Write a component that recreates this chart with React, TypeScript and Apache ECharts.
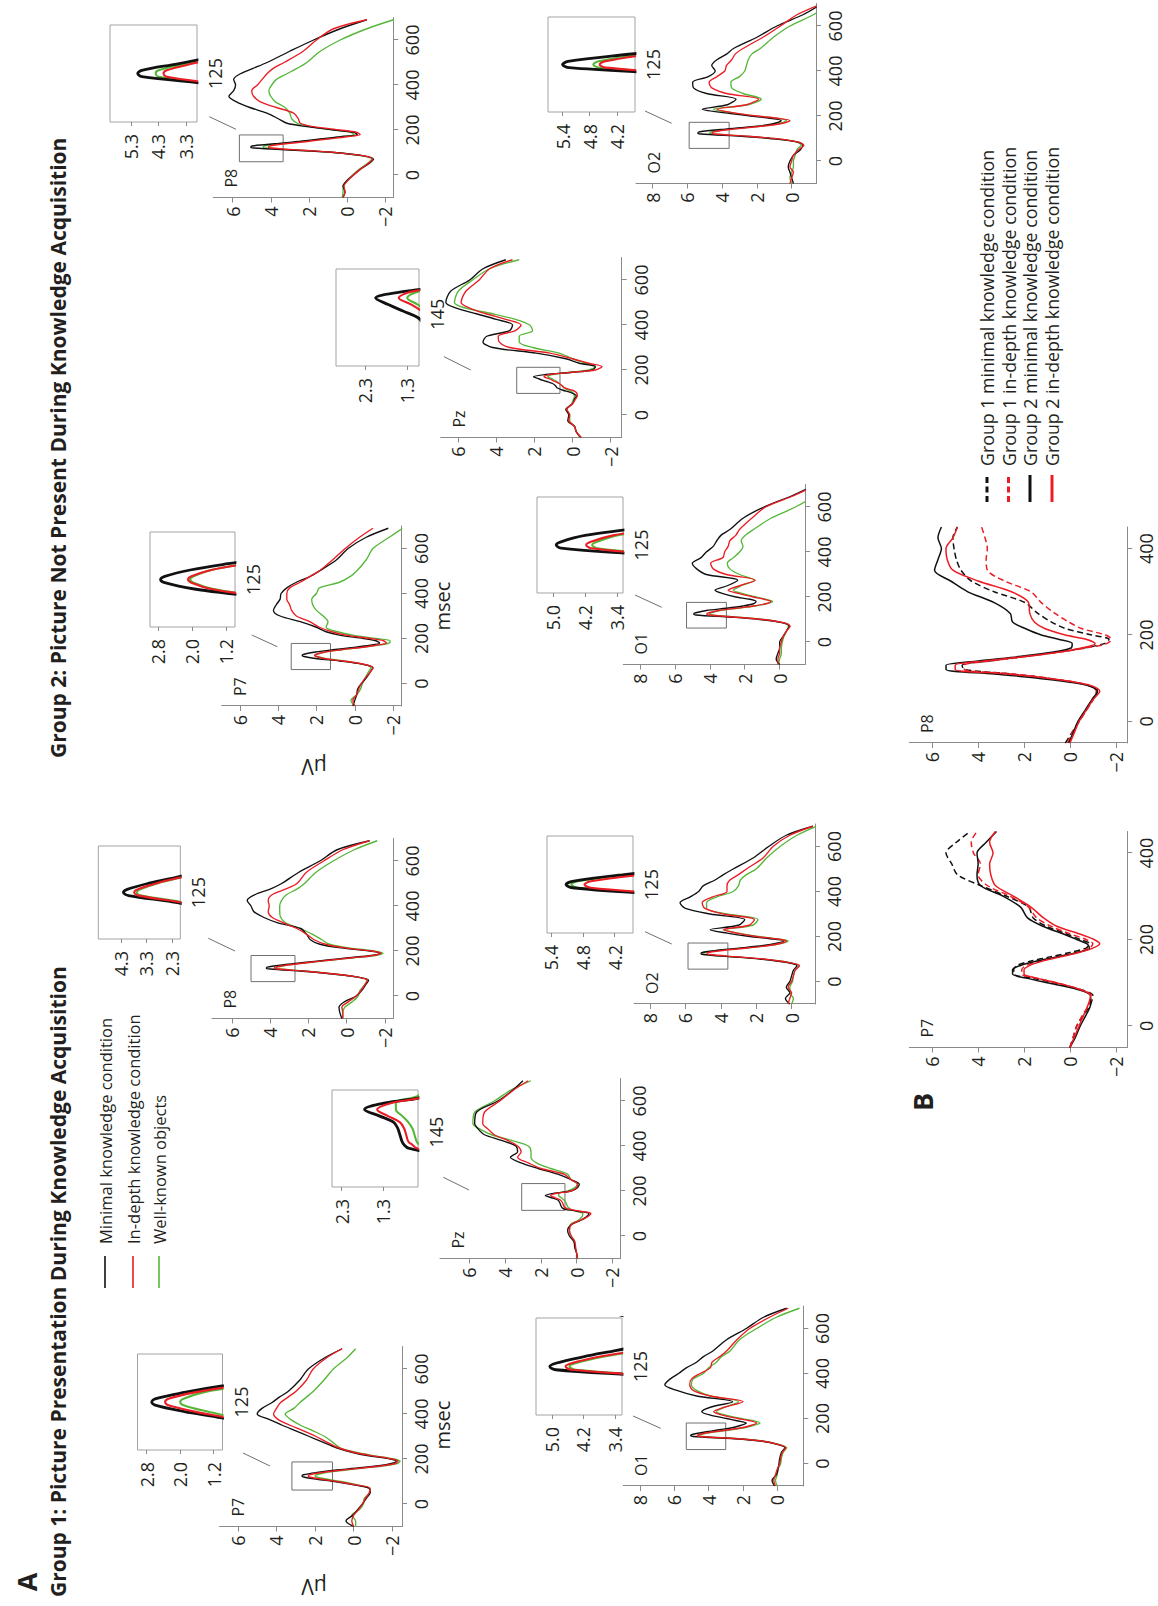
import React, { useEffect, useRef } from "react";
import * as echarts from "echarts";

// ---------- time bases (ms) ----------
const T = [-100, -75, -50, -25, 0, 25, 50, 70, 85, 100, 110, 120, 125, 130, 140, 150, 160, 170, 180, 190, 200, 215, 230, 250, 275, 300, 325, 350, 375, 400, 425, 450, 475, 500, 550, 600, 650, 690];
const TB = [-50, -25, 0, 25, 50, 70, 85, 100, 110, 120, 130, 140, 150, 160, 170, 180, 190, 200, 215, 230, 250, 275, 300, 325, 350, 375, 400, 425, 450];

// ---------- Group 1 (µV) : minimal / in-depth / well-known ----------
const g1P7Minimal = [0.0, 0.4, 0.05, -0.2, -0.45, -0.65, -0.85, -0.8, 0.0, 1.0, 1.9, 2.6, 2.68, 2.6, 1.9, 1.0, -0.2, -1.3, -1.95, -2.2, -1.9, -0.7, 0.1, 0.9, 1.6, 2.3, 3.0, 3.7, 4.35, 5.0, 4.75, 4.25, 3.85, 3.4, 2.8, 2.35, 1.5, 0.6];
const g1P7InDepth = [0.0, 0.1, 0.0, -0.25, -0.45, -0.6, -0.8, -0.85, -0.1, 0.85, 1.65, 2.28, 2.36, 2.28, 1.65, 0.7, -0.45, -1.5, -2.15, -2.3, -2.0, -0.9, 0.0, 0.8, 1.4, 1.95, 2.6, 3.3, 3.9, 4.15, 4.0, 3.8, 3.4, 3.0, 2.45, 2.1, 1.4, 0.6];
const g1P7WellKnown = [-0.1, -0.1, 0.1, -0.3, -0.5, -0.55, -0.85, -0.8, -0.2, 0.65, 1.35, 1.92, 2.0, 1.92, 1.45, 0.5, -0.5, -1.6, -2.25, -2.4, -2.1, -1.0, -0.1, 0.7, 1.1, 1.5, 2.1, 2.75, 3.25, 3.55, 3.1, 2.8, 2.45, 2.1, 1.55, 1.05, 0.35, -0.1];

const g1P8Minimal = [0.25, 0.35, 0.4, 0.1, -0.5, -0.8, -1.0, -1.15, -0.5, 1.0, 2.3, 4.0, 4.2, 4.05, 3.2, 2.1, 1.0, -0.1, -1.3, -1.75, -1.2, 0.4, 1.4, 1.9, 2.1, 2.4, 3.6, 4.35, 4.85, 5.0, 5.2, 4.8, 4.0, 3.4, 2.5, 1.4, 0.5, -1.2];
const g1P8InDepth = [0.2, 0.2, 0.25, -0.1, -0.5, -0.75, -0.95, -1.1, -0.5, 0.9, 2.1, 3.6, 3.78, 3.65, 2.9, 1.9, 0.8, -0.3, -1.4, -1.8, -1.3, 0.2, 1.1, 1.7, 2.1, 2.6, 3.3, 3.9, 4.1, 4.05, 4.1, 3.9, 3.2, 2.6, 2.1, 1.2, 0.2, -1.2];
const g1P8WellKnown = [0.2, 0.2, 0.1, -0.3, -0.6, -0.7, -0.95, -1.05, -0.5, 0.9, 2.0, 3.5, 3.68, 3.55, 2.85, 1.85, 0.75, -0.4, -1.5, -1.9, -1.4, 0.0, 0.9, 1.3, 1.8, 2.45, 3.2, 3.45, 3.5, 3.5, 3.4, 3.15, 2.6, 2.2, 1.6, 0.7, -0.4, -1.6];

const g1PzMinimal = [-0.05, 0.0, 0.1, 0.15, 0.4, 0.5, 0.3, -0.25, -0.55, -0.7, -0.05, 0.7, 0.8, 0.85, 0.9, 0.95, 1.05, 1.4, 1.75, 1.25, 0.3, -0.05, -0.15, 0.3, 1.05, 2.15, 3.1, 3.7, 3.3, 3.4, 4.2, 5.15, 5.5, 5.7, 5.6, 4.4, 3.55, 3.0];
const g1PzInDepth = [-0.05, 0.0, 0.05, 0.1, 0.3, 0.4, 0.3, -0.2, -0.6, -0.8, -0.2, 0.5, 0.6, 0.7, 0.75, 0.8, 0.9, 1.2, 1.45, 1.1, 0.3, 0.0, -0.05, 0.3, 0.7, 2.0, 2.7, 3.3, 3.1, 3.3, 3.85, 4.6, 4.95, 5.25, 5.15, 4.3, 3.5, 2.7];
const g1PzWellKnown = [0.0, 0.0, 0.1, 0.1, 0.3, 0.4, 0.35, -0.1, -0.3, -0.35, 0.0, 0.35, 0.43, 0.5, 0.55, 0.6, 0.7, 0.85, 1.0, 1.0, 0.5, 0.1, -0.05, 0.3, 0.5, 1.45, 2.25, 2.55, 2.55, 2.7, 3.65, 4.75, 5.4, 5.8, 5.7, 4.6, 3.65, 2.55];

const g1O1Minimal = [0.15, 0.3, 0.05, -0.05, -0.1, -0.15, -0.25, -0.45, 0.0, 1.0, 2.5, 4.9, 5.05, 4.9, 4.2, 3.35, 2.55, 2.1, 1.8, 2.35, 2.95, 3.9, 4.4, 3.9, 2.6, 4.7, 5.85, 6.55, 6.25, 5.75, 5.3, 4.7, 4.3, 3.75, 2.95, 1.8, 0.8, -0.55];
const g1O1InDepth = [0.1, 0.2, 0.1, 0.0, -0.15, -0.2, -0.3, -0.5, -0.05, 0.9, 2.3, 4.5, 4.65, 4.5, 3.8, 2.8, 2.0, 1.5, 1.2, 1.6, 2.3, 3.2, 3.7, 3.1, 2.0, 3.9, 4.9, 5.1, 5.0, 4.5, 3.9, 3.8, 3.35, 2.95, 2.35, 1.6, 0.45, -0.65];
const g1O1WellKnown = [0.0, 0.1, 0.0, -0.05, -0.2, -0.25, -0.35, -0.55, -0.1, 0.85, 2.2, 4.4, 4.55, 4.4, 3.7, 2.7, 1.85, 1.35, 1.0, 1.4, 2.1, 3.0, 3.55, 3.05, 2.25, 3.9, 4.7, 5.0, 4.9, 4.3, 4.0, 3.55, 3.25, 2.75, 2.2, 1.2, 0.05, -1.3];

const g1O2Minimal = [0.1, 0.35, 0.1, 0.3, 0.1, 0.0, -0.1, -0.3, 0.3, 1.8, 3.4, 5.0, 5.12, 5.0, 4.05, 2.75, 1.6, 0.85, 0.45, 1.2, 2.35, 3.65, 4.6, 3.0, 2.65, 4.6, 6.0, 6.3, 5.75, 5.25, 5.0, 4.35, 3.85, 3.3, 2.15, 1.3, 0.3, -1.2];
const g1O2InDepth = [0.2, 0.1, 0.0, 0.2, 0.0, -0.1, -0.2, -0.45, 0.2, 1.6, 3.1, 4.65, 4.77, 4.65, 3.7, 2.4, 1.3, 0.6, 0.3, 0.9, 2.0, 3.1, 3.85, 2.4, 2.1, 3.85, 4.9, 5.05, 4.5, 3.65, 3.65, 3.5, 3.0, 2.55, 1.6, 1.05, 0.1, -1.2];
const g1O2WellKnown = [0.0, -0.1, 0.1, 0.1, -0.05, -0.1, -0.2, -0.4, 0.2, 1.7, 3.3, 4.9, 5.02, 4.9, 3.9, 2.5, 1.3, 0.55, 0.2, 0.8, 1.9, 3.0, 3.75, 2.2, 1.9, 3.65, 4.8, 4.8, 4.25, 3.3, 3.0, 2.9, 2.55, 2.0, 1.4, 0.65, -0.3, -1.4];

// ---------- Group 2 ----------
const g2P7Minimal = [0.1, 0.0, -0.1, -0.15, -0.35, -0.6, -0.8, -0.95, -0.45, 0.8, 1.95, 2.65, 2.75, 2.65, 2.05, 1.15, 0.1, -0.8, -1.3, -1.1, -0.45, 0.8, 1.5, 2.0, 2.85, 3.9, 4.25, 4.1, 3.9, 3.85, 3.55, 3.05, 2.35, 1.85, 0.95, 0.35, -0.6, -1.75];
const g2P7InDepth = [0.0, 0.1, -0.1, -0.2, -0.35, -0.55, -0.8, -0.95, -0.5, 0.6, 1.55, 2.02, 2.1, 2.02, 1.55, 0.7, -0.3, -1.1, -1.65, -1.5, -0.8, 0.45, 1.2, 1.85, 2.35, 3.05, 3.3, 3.4, 3.55, 3.55, 3.4, 2.85, 2.35, 1.85, 1.15, 0.5, -0.25, -0.95];
const g2P7WellKnown = [0.0, 0.2, -0.1, -0.3, -0.4, -0.55, -0.7, -0.85, -0.45, 0.55, 1.5, 1.97, 2.05, 1.97, 1.55, 0.7, -0.3, -1.2, -1.8, -1.85, -1.1, 0.1, 0.9, 1.5, 1.4, 1.65, 2.0, 2.2, 2.25, 2.0, 1.85, 0.8, 0.25, -0.1, -0.6, -0.95, -1.8, -2.5];

const g2PzMinimal = [-0.45, -0.2, -0.1, 0.25, 0.2, 0.35, 0.0, -0.1, -0.2, 0.1, 0.5, 0.8, 0.85, 0.9, 1.05, 1.4, 1.75, 2.05, 1.4, 0.0, -1.05, -1.2, -0.35, 0.35, 1.9, 4.2, 4.7, 4.5, 3.3, 3.15, 4.0, 5.05, 6.1, 6.65, 6.4, 5.4, 4.7, 3.5];
const g2PzInDepth = [-0.45, -0.2, -0.1, 0.2, 0.15, 0.3, 0.0, -0.15, -0.25, -0.2, 0.0, 0.4, 0.48, 0.55, 0.7, 0.95, 1.2, 1.5, 1.2, 0.0, -1.2, -1.55, -0.85, 0.0, 1.2, 3.3, 3.85, 3.9, 3.0, 2.7, 3.5, 4.55, 5.4, 5.85, 5.6, 4.9, 4.35, 3.15];
const g2PzWellKnown = [-0.4, -0.2, -0.1, 0.15, 0.15, 0.3, 0.05, -0.05, -0.1, 0.0, 0.2, 0.45, 0.5, 0.55, 0.7, 0.85, 1.05, 1.3, 1.05, 0.15, -0.85, -1.2, -0.7, 0.0, 0.7, 2.1, 2.8, 2.8, 2.1, 2.25, 3.0, 4.2, 5.6, 6.2, 6.0, 5.25, 4.35, 2.8];

const g2P8Minimal = [0.2, 0.1, 0.2, 0.0, -0.35, -0.7, -1.15, -1.4, -0.9, 0.7, 2.7, 4.9, 5.05, 4.9, 3.6, 2.45, 1.4, 0.35, -0.55, -0.35, 0.7, 2.1, 3.15, 3.6, 4.2, 5.1, 5.8, 6.2, 5.95, 5.85, 5.95, 5.6, 4.9, 4.2, 3.0, 1.75, 0.35, -1.05];
const g2P8InDepth = [0.2, 0.1, 0.15, -0.05, -0.35, -0.7, -1.1, -1.35, -0.9, 0.6, 2.3, 4.0, 4.12, 4.0, 3.1, 2.0, 1.0, 0.0, -0.7, -0.5, 0.35, 1.75, 2.45, 2.55, 2.8, 3.7, 4.55, 4.9, 5.0, 4.7, 4.45, 4.2, 3.85, 3.3, 2.3, 1.6, 0.7, -1.05];
const g2P8WellKnown = [0.25, 0.2, 0.2, 0.0, -0.3, -0.65, -1.05, -1.3, -0.8, 0.7, 2.5, 4.3, 4.4, 4.3, 3.3, 2.2, 1.2, 0.3, -0.35, -0.2, 0.7, 1.95, 2.6, 2.9, 3.0, 3.25, 3.75, 4.0, 4.1, 3.95, 3.7, 3.15, 2.6, 2.1, 1.4, 0.35, -1.05, -2.45];

const g2O1Minimal = [0.0, 0.2, 0.1, 0.0, 0.0, -0.2, -0.4, -0.55, -0.2, 1.15, 2.75, 4.8, 4.92, 4.8, 4.2, 3.05, 2.1, 1.5, 1.35, 1.7, 2.5, 3.25, 3.7, 3.0, 2.4, 4.2, 4.75, 5.0, 4.5, 4.2, 3.8, 3.6, 3.35, 2.85, 2.1, 0.9, -0.7, -1.8];
const g2O1InDepth = [0.1, 0.1, 0.0, 0.0, -0.1, -0.2, -0.4, -0.6, -0.25, 0.95, 2.4, 4.05, 4.17, 4.05, 3.5, 2.5, 1.5, 0.8, 0.5, 0.9, 1.5, 2.3, 2.95, 2.3, 1.4, 3.05, 3.8, 3.95, 3.25, 3.15, 2.95, 2.85, 2.5, 2.3, 1.6, 0.8, -0.8, -1.9];
const g2O1WellKnown = [0.05, 0.0, -0.1, -0.1, -0.15, -0.25, -0.4, -0.5, -0.2, 0.9, 2.3, 3.9, 4.02, 3.9, 3.4, 2.4, 1.4, 0.75, 0.4, 0.8, 1.35, 2.1, 2.65, 2.2, 1.45, 2.3, 2.85, 3.0, 2.65, 2.3, 2.1, 2.2, 1.95, 1.5, 0.5, -0.9, -2.0, -2.5];

const g2O2Minimal = [-0.1, 0.0, 0.1, 0.2, 0.1, -0.1, -0.5, -0.65, -0.3, 1.25, 2.9, 5.25, 5.4, 5.28, 4.1, 2.6, 1.45, 0.85, 0.6, 1.25, 2.4, 3.95, 5.15, 3.7, 3.2, 4.9, 5.65, 5.7, 4.8, 4.4, 4.6, 4.3, 3.75, 3.35, 2.0, 0.85, -0.65, -1.55];
const g2O2InDepth = [0.1, 0.0, -0.1, 0.1, 0.0, -0.1, -0.4, -0.7, -0.35, 1.0, 2.5, 4.45, 4.58, 4.45, 3.6, 2.3, 1.1, 0.4, 0.1, 0.8, 2.0, 3.4, 4.3, 2.6, 1.9, 3.75, 4.6, 4.75, 4.3, 3.85, 3.75, 3.45, 3.25, 2.8, 1.65, 0.65, -0.3, -1.45];
const g2O2WellKnown = [0.0, 0.1, 0.0, -0.1, -0.1, -0.2, -0.3, -0.55, -0.25, 1.1, 2.6, 4.6, 4.72, 4.6, 3.7, 2.4, 1.2, 0.55, 0.3, 0.9, 2.1, 3.5, 4.5, 2.5, 1.75, 2.8, 3.45, 3.5, 3.0, 2.7, 2.6, 2.5, 2.3, 1.8, 1.05, 0.1, -1.25, -2.0];

// ---------- Part B ----------
const bP7G1Minimal = [0.0, -0.15, -0.3, -0.6, -0.9, -1.0, -0.4, 0.7, 1.6, 2.45, 2.45, 2.3, 1.7, 0.85, 0.0, -0.7, -0.85, -0.45, 0.25, 1.0, 1.6, 1.8, 2.75, 3.9, 4.9, 5.15, 5.4, 4.95, 4.35];
const bP7G1InDepth = [0.0, -0.15, -0.3, -0.55, -0.85, -0.95, -0.4, 0.6, 1.4, 2.1, 2.1, 1.9, 1.3, 0.5, -0.3, -0.85, -1.0, -0.7, 0.1, 0.8, 1.45, 1.8, 2.6, 3.6, 4.0, 3.9, 4.2, 4.3, 4.05];
const bP7G2Minimal = [0.0, -0.25, -0.45, -0.7, -0.9, -0.9, -0.3, 1.0, 1.85, 2.5, 2.5, 2.15, 1.45, 0.55, -0.3, -0.85, -0.75, -0.3, 0.4, 1.15, 1.85, 2.15, 2.9, 3.9, 4.05, 4.0, 4.05, 3.65, 3.2];
const bP7G2InDepth = [0.0, -0.2, -0.4, -0.6, -0.8, -0.9, -0.4, 0.6, 1.4, 2.0, 2.0, 1.75, 1.2, 0.4, -0.4, -1.0, -1.3, -1.05, -0.3, 0.55, 1.15, 1.7, 2.45, 3.25, 3.45, 3.5, 3.35, 3.5, 3.25];
const bP8G1Minimal = [0.2, -0.1, -0.4, -0.7, -1.0, -1.2, -0.7, 1.0, 2.6, 4.6, 4.7, 3.5, 2.0, 0.6, -0.6, -1.5, -1.7, -0.95, 0.2, 0.8, 1.4, 1.95, 3.3, 4.3, 4.75, 4.95, 5.05, 5.1, 4.9];
const bP8G1InDepth = [0.1, -0.1, -0.4, -0.7, -1.0, -1.15, -0.7, 0.9, 2.5, 4.6, 4.6, 3.4, 1.9, 0.5, -0.7, -1.6, -1.8, -1.55, -0.5, 0.05, 0.65, 1.25, 1.7, 2.85, 3.6, 3.65, 3.6, 3.7, 3.85];
const bP8G2Minimal = [0.05, -0.15, -0.35, -0.65, -0.95, -1.2, -0.65, 1.4, 3.3, 5.4, 5.4, 4.0, 2.25, 0.8, -0.05, -0.1, 0.5, 1.25, 1.95, 2.5, 2.6, 3.3, 4.45, 5.2, 5.9, 5.75, 5.6, 5.75, 5.6];
const bP8G2InDepth = [0.0, -0.2, -0.4, -0.7, -1.0, -1.3, -0.8, 1.0, 2.8, 5.0, 5.0, 3.7, 2.0, 0.5, -0.5, -1.1, -0.7, 0.2, 1.1, 1.55, 1.75, 1.8, 2.55, 4.0, 5.1, 5.35, 5.4, 5.1, 4.9];

// ---------- ticks & labels ----------
const X_TICKS = [0, 200, 400, 600];
const XB_TICKS = [0, 200, 400];
const Y_TICKS_STD = [-2, 0, 2, 4, 6];
const Y_TICKS_OCC = [0, 2, 4, 6, 8];
const LEGEND_A = ["Minimal knowledge condition", "In-depth knowledge condition", "Well-known objects"];
const LEGEND_B = ["Group 1 minimal knowledge condition", "Group 1 in-depth knowledge condition", "Group 2 minimal knowledge condition", "Group 2 in-depth knowledge condition"];
const TITLE_1 = "Group 1: Picture Presentation During Knowledge Acquisition";
const TITLE_2 = "Group 2: Picture Not Present During Knowledge Acquisition";

// ---------- styling ----------
const FONT = "'Open Sans', 'Liberation Sans', Arial, sans-serif";
const INK = "#231f20";
const AXIS = "#8a8a8a";
const BLACK = "#111111";
const RED = "#ec1c24";
const GREEN = "#55b738";
const COLORS = [BLACK, RED, GREEN];
const TICK_FS = 18;

// layout (landscape canvas 1606 x 1158, rotated into the portrait page)
const PANELS = [
  { name: "P7", left: 79.5, top: 219.5, h: 182.5, ymin: -2.5, ymax: 6.95, yTicks: Y_TICKS_STD, lines: [g1P7Minimal, g1P7InDepth, g1P7WellKnown], rect: [62, 187, 1.1, 3.2], inset: { left: 156, top: 137.5, w: 96, h: 85, ymin: 0.99, ymax: 3.02, ticks: [1.2, 2.0, 2.8], xmin: 50, xmax: 200, label: 125 }, slash: [153, 243, 140, 270] },
  { name: "P8", left: 587.5, top: 212, h: 181.3, ymin: -2.44, ymax: 7.04, yTicks: Y_TICKS_STD, lines: [g1P8Minimal, g1P8InDepth, g1P8WellKnown], rect: [64, 180, 2.7, 5.0], inset: { left: 667, top: 98.3, w: 93, h: 82, ymin: 1.98, ymax: 5.18, ticks: [2.3, 3.3, 4.3], xmin: 50, xmax: 200, label: 125 }, slash: [667.7, 208.3, 655, 235] },
  { name: "Pz", left: 347.5, top: 440, h: 180, ymin: -2.43, ymax: 7.64, yTicks: Y_TICKS_STD, lines: [g1PzMinimal, g1PzInDepth, g1PzWellKnown], rect: [114, 233, 0.65, 3.07], inset: { left: 419, top: 332, w: 97, h: 86, ymin: 0.47, ymax: 2.53, ticks: [1.3, 2.3], xmin: 60, xmax: 210, label: 145 }, slash: [428.7, 443.3, 416, 469] },
  { name: "O1", left: 120, top: 623.3, h: 180, ymin: -1.52, ymax: 8.97, yTicks: Y_TICKS_OCC, lines: [g1O1Minimal, g1O1InDepth, g1O1WellKnown], rect: [62, 180, 3.0, 5.3], inset: { left: 191, top: 536, w: 97, h: 86, ymin: 3.22, ymax: 5.4, ticks: [3.4, 4.2, 5.0], xmin: 50, xmax: 200, label: 125 }, slash: [190, 633, 177.7, 660.7] },
  { name: "O2", left: 602, top: 634, h: 181, ymin: -1.32, ymax: 8.9, yTicks: Y_TICKS_OCC, lines: [g1O2Minimal, g1O2InDepth, g1O2WellKnown], rect: [55, 171, 3.6, 5.85], inset: { left: 673, top: 547, w: 97, h: 86, ymin: 3.85, ymax: 5.48, ticks: [4.2, 4.8, 5.4], xmin: 50, xmax: 200, label: 125 }, slash: [674.3, 645, 662, 671.7] },
  { name: "P7", left: 900, top: 221.7, h: 180, ymin: -2.45, ymax: 6.95, yTicks: Y_TICKS_STD, lines: [g2P7Minimal, g2P7InDepth, g2P7WellKnown], rect: [62, 178, 1.27, 3.32], inset: { left: 979, top: 150, w: 95, h: 85, ymin: 0.99, ymax: 3.0, ticks: [1.2, 2.0, 2.8], xmin: 50, xmax: 200, label: 125 }, slash: [971, 251.7, 959.3, 277.3] },
  { name: "Pz", left: 1168.5, top: 440.7, h: 181, ymin: -2.58, ymax: 6.92, yTicks: Y_TICKS_STD, lines: [g2PzMinimal, g2PzInDepth, g2PzWellKnown], rect: [96, 212, 0.66, 2.93], inset: { left: 1240, top: 336, w: 97, h: 83, ymin: 1.02, ymax: 2.99, ticks: [1.3, 2.3], xmin: 65, xmax: 215, label: 145 }, slash: [1249.3, 444, 1236, 470.7] },
  { name: "P8", left: 1408.5, top: 213.3, h: 180, ymin: -2.44, ymax: 7.02, yTicks: Y_TICKS_STD, lines: [g2P8Minimal, g2P8InDepth, g2P8WellKnown], rect: [59, 178, 3.35, 5.65], inset: { left: 1484, top: 110, w: 97, h: 87, ymin: 2.91, ymax: 6.05, ticks: [3.3, 4.3, 5.3], xmin: 50, xmax: 200, label: 125 }, slash: [1489.3, 209.3, 1476.7, 236] },
  { name: "O1", left: 941.5, top: 623.3, h: 181.7, ymin: -1.45, ymax: 8.95, yTicks: Y_TICKS_OCC, lines: [g2O1Minimal, g2O1InDepth, g2O1WellKnown], rect: [62, 176, 3.05, 5.33], inset: { left: 1013, top: 537, w: 96, h: 86, ymin: 3.25, ymax: 5.4, ticks: [3.4, 4.2, 5.0], xmin: 50, xmax: 200, label: 125 }, slash: [1011, 635, 998.7, 661.7] },
  { name: "O2", left: 1422.5, top: 636, h: 180, ymin: -1.4, ymax: 8.96, yTicks: Y_TICKS_OCC, lines: [g2O2Minimal, g2O2InDepth, g2O2WellKnown], rect: [56, 172, 3.6, 5.9], inset: { left: 1494, top: 548, w: 95, h: 87, ymin: 3.8, ymax: 5.72, ticks: [4.2, 4.8, 5.4], xmin: 50, xmax: 200, label: 125 }, slash: [1495, 645, 1482.7, 671.7] },
];

const B_PANELS = [
  { name: "P7", left: 558.5, lines: [bP7G1Minimal, bP7G1InDepth, bP7G2Minimal, bP7G2InDepth] },
  { name: "P8", left: 863, lines: [bP8G1Minimal, bP8G1InDepth, bP8G2Minimal, bP8G2InDepth] },
];
const B_STYLES = [
  { color: BLACK, dash: [6, 3.5] },
  { color: RED, dash: [6, 3.5] },
  { color: BLACK, dash: null },
  { color: RED, dash: null },
];

const fmtInt = (v: number) => (v < 0 ? "\u2212" + Math.abs(v) : String(v));
const fmt1 = (v: number) => v.toFixed(1);

function txt(x: number, y: number, text: string, o: any = {}) {
  const align = o.align || "left";
  const valign = o.valign || "middle";
  return {
    type: "text",
    x,
    y,
    rotation: o.rotation || 0,
    silent: true,
    style: {
      text,
      fill: INK,
      fontSize: o.size || 16,
      fontWeight: o.weight || "normal",
      fontFamily: FONT,
      align,
      verticalAlign: valign,
      textAlign: align,
      textVerticalAlign: valign,
    },
  };
}
function seg(x1: number, y1: number, x2: number, y2: number, stroke: string, width: number, dash?: number[] | null) {
  return { type: "line", silent: true, shape: { x1, y1, x2, y2 }, style: { stroke, lineWidth: width, lineDash: dash || null } };
}

function mainAxis(min: number, max: number, ticks: number[], margin: number) {
  return {
    type: "value",
    min,
    max,
    axisLine: { show: true, onZero: false, lineStyle: { color: AXIS, width: 1 } },
    axisTick: { show: true, inside: false, length: 5, customValues: ticks, lineStyle: { color: AXIS, width: 1 } },
    axisLabel: { show: true, customValues: ticks, margin, fontSize: TICK_FS, fontFamily: FONT, color: INK, formatter: fmtInt },
    splitLine: { show: false },
  };
}

function buildOption() {
  const grids: any[] = [];
  const xAxes: any[] = [];
  const yAxes: any[] = [];
  const series: any[] = [];
  const g: any[] = [];

  const addGrid = (grid: any, x: any, y: any) => {
    grids.push({ containLabel: false, outerBoundsMode: "none", ...grid });
    const i = grids.length - 1;
    xAxes.push({ ...x, gridIndex: i });
    yAxes.push({ ...y, gridIndex: i });
    return i;
  };

  PANELS.forEach((p) => {
    const gi = addGrid(
      { left: p.left, top: p.top, width: 180, height: p.h },
      mainAxis(-100, 700, X_TICKS, 10),
      mainAxis(p.ymin, p.ymax, p.yTicks, 9)
    );
    [2, 0, 1].forEach((k) => {
      const s: any = {
        type: "line",
        xAxisIndex: gi,
        yAxisIndex: gi,
        data: T.map((t, j) => [t, p.lines[k][j]]),
        symbol: "none",
        showSymbol: false,
        smooth: 0.3,
        clip: true,
        silent: true,
        lineStyle: { color: COLORS[k], width: 1.35 },
        z: 3,
      };
      if (k === 0) {
        s.markArea = {
          silent: true,
          itemStyle: { color: "rgba(0,0,0,0)", borderColor: "#707070", borderWidth: 1 },
          data: [[{ coord: [p.rect[0], p.rect[3]] }, { coord: [p.rect[1], p.rect[2]] }]],
        };
      }
      series.push(s);
    });

    const ins = p.inset;
    const ii = addGrid(
      { left: ins.left, top: ins.top, width: ins.w, height: ins.h, show: true, borderColor: "#a3a3a3", borderWidth: 1, backgroundColor: "rgba(0,0,0,0)" },
      {
        type: "value",
        min: ins.xmin,
        max: ins.xmax,
        axisLine: { show: false },
        axisTick: { show: false },
        axisLabel: { show: true, customValues: [ins.label], margin: 9, fontSize: TICK_FS, fontFamily: FONT, color: INK },
        splitLine: { show: false },
      },
      {
        type: "value",
        min: ins.ymin,
        max: ins.ymax,
        axisLine: { show: false },
        axisTick: { show: true, inside: false, length: 4, customValues: ins.ticks, lineStyle: { color: AXIS } },
        axisLabel: { show: true, customValues: ins.ticks, margin: 12, fontSize: TICK_FS, fontFamily: FONT, color: INK, formatter: fmt1 },
        splitLine: { show: false },
      }
    );
    [2, 0, 1].forEach((k) => {
      series.push({
        type: "line",
        xAxisIndex: ii,
        yAxisIndex: ii,
        data: T.map((t, j) => [t, p.lines[k][j]]),
        symbol: "none",
        showSymbol: false,
        smooth: 0.35,
        clip: true,
        silent: true,
        lineStyle: { color: COLORS[k], width: k === 0 ? 2.8 : 2.1 },
        z: 4,
      });
    });

    g.push(seg(p.slash[0], p.slash[1], p.slash[2], p.slash[3], "#6f6f6f", 1));
    g.push(txt(p.left + 10, p.top + 18, p.name, { size: 16 }));
  });

  B_PANELS.forEach((p) => {
    const gi = addGrid(
      { left: p.left, top: 909.3, width: 216, height: 218 },
      mainAxis(-50, 450, XB_TICKS, 10),
      mainAxis(-2.5, 7.0, Y_TICKS_STD, 9)
    );
    p.lines.forEach((vals, k) => {
      const st = B_STYLES[k];
      series.push({
        type: "line",
        xAxisIndex: gi,
        yAxisIndex: gi,
        data: TB.map((t, j) => [t, vals[j]]),
        symbol: "none",
        showSymbol: false,
        smooth: 0.3,
        clip: true,
        silent: true,
        lineStyle: { color: st.color, width: 1.5, type: st.dash ? st.dash : "solid" },
        z: 3,
      });
    });
    g.push(txt(p.left + 10, 909.3 + 18, p.name, { size: 16 }));
  });

  // headings
  g.push(txt(24, 26, "A", { size: 27, weight: "bold", align: "center" }));
  g.push(txt(9, 58, TITLE_1, { size: 21, weight: "bold" }));
  g.push(txt(848, 58, TITLE_2, { size: 21, weight: "bold" }));
  g.push(txt(504, 922, "B", { size: 27, weight: "bold", align: "center" }));

  // axis titles
  [19, 839].forEach((x) => g.push(txt(x, 314, "\u00b5V", { size: 21, align: "center", rotation: Math.PI / 2 })));
  [181, 1000].forEach((x) => g.push(txt(x, 442, "msec", { size: 20, align: "center" })));

  // legend A
  const legAY = [105, 133, 159];
  LEGEND_A.forEach((label, i) => {
    g.push(seg(318, legAY[i], 350, legAY[i], COLORS[i], 1.6));
    g.push(txt(362, legAY[i], label, { size: 16.5 }));
  });

  // legend B
  const legBY = [987, 1008.5, 1030, 1052];
  LEGEND_B.forEach((label, i) => {
    const st = B_STYLES[i];
    g.push(seg(1104, legBY[i], 1131, legBY[i], st.color, 3, st.dash ? [6, 3.5] : null));
    g.push(txt(1140, legBY[i], label, { size: 17.8 }));
  });

  return {
    animation: false,
    backgroundColor: "#ffffff",
    textStyle: { fontFamily: FONT },
    grid: grids,
    xAxis: xAxes,
    yAxis: yAxes,
    series,
    graphic: { elements: g },
  };
}

export default function App() {
  const ref = useRef<HTMLDivElement>(null);
  useEffect(() => {
    if (!ref.current) return;
    const chart = echarts.init(ref.current, null, { renderer: "svg" });
    chart.setOption(buildOption() as any);
    return () => chart.dispose();
  }, []);
  return (
    <div style={{ position: "fixed", left: 0, top: 0, width: 1158, height: 1606, overflow: "hidden", background: "#ffffff" }}>
      <div
        ref={ref}
        style={{
          position: "absolute",
          left: 0,
          top: 0,
          width: 1606,
          height: 1158,
          transformOrigin: "0 0",
          transform: "translateY(1606px) rotate(-90deg)",
        }}
      />
    </div>
  );
}
